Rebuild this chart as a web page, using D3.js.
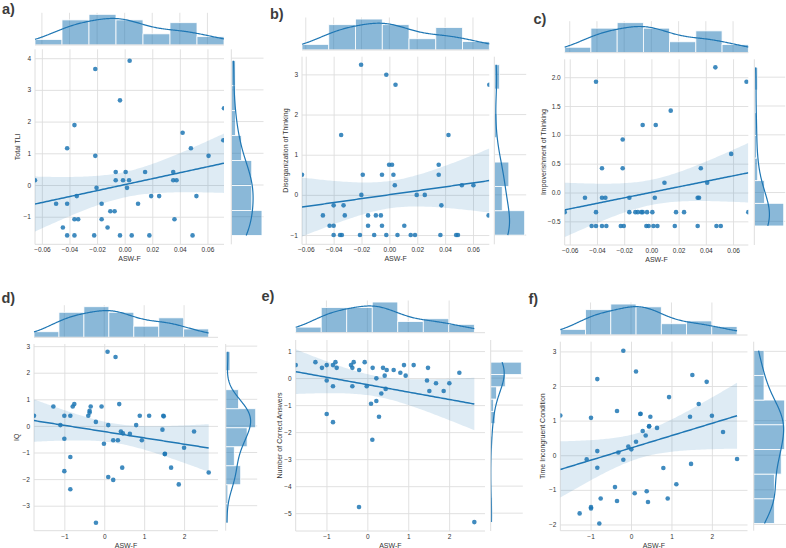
<!DOCTYPE html>
<html><head><meta charset="utf-8">
<script src="https://cdn.jsdelivr.net/npm/d3@7"></script>
<style>body{margin:0;background:#fff}svg{display:block}text{font-family:"Liberation Sans",Arial,sans-serif}</style>
</head><body><svg id="c" width="786" height="548"></svg>
<script>
// ---------------- DATA ----------------
const xLabel = "ASW-F";
const yLabelA = "Total TLI";
const yLabelB = "Disorganization of Thinking";
const yLabelC = "Impoverishment of Thinking";
const yLabelD = "IQ";
const yLabelE = "Number of Correct Answers";
const yLabelF = "Time Incongruent Condition";
const panelTags = ["a)", "b)", "c)", "d)", "e)", "f)"];

const xTicksRaw = [-0.06, -0.04, -0.02, 0, 0.02, 0.04, 0.06];
const xTicksZ = [-1, 0, 1, 2];
const yTicksA = [-1, 0, 1, 2, 3, 4];
const yTicksB = [-1, 0, 1, 2, 3];
const yTicksC = [-0.5, 0, 0.5, 1, 1.5, 2];
const yTicksD = [-3, -2, -1, 0, 1, 2, 3];
const yTicksE = [-5, -4, -3, -2, -1, 0, 1];
const yTicksF = [-2, -1, 0, 1, 2, 3];

const xDomA = [-0.065, 0.072],  yDomA = [-1.87, 4.28];
const xDomB = [-0.0627, 0.0717], yDomB = [-1.23, 3.44];
const xDomC = [-0.0637, 0.0712], yDomC = [-0.91, 2.31];
const xDomD = [-1.76, 2.85],    yDomD = [-3.94, 3.08];
const xDomE = [-1.752, 2.877],  yDomE = [-5.66, 1.41];
const xDomF = [-1.748, 2.88],   yDomF = [-2.18, 3.28];

// marginal histogram bin counts [x, y]
const binsA = [7, 7], binsB = [7, 7], binsC = [7, 7];
const binsD = [7, 9], binsE = [7, 13], binsF = [7, 7];

const ptsA = [[-0.065,0.15],[-0.0213,3.66],[0.0036,3.92],[-0.0034,2.67],[0.072,2.42],[-0.0364,1.89],[0.042,1.65],[-0.0417,1.16],[0.048,1.16],[0.0715,1.41],[-0.0213,0.92],[0.0608,0.92],[-0.0065,0.41],[0.0007,0.41],[0.0148,0.41],[0.0352,0.41],[-0.0065,0.15],[-0.0012,0.15],[0.0032,0.15],[0.0352,0.15],[0.0376,0.15],[-0.0204,-0.09],[0.0017,-0.09],[-0.0497,-0.59],[-0.0417,-0.59],[-0.0347,-0.35],[-0.0167,-0.59],[0.0097,-0.59],[0.0192,-0.35],[0.025,-0.35],[0.052,-0.35],[-0.0104,-0.83],[-0.0073,-0.83],[-0.0364,-1.08],[-0.0337,-1.08],[-0.0167,-1.08],[0.0361,-1.08],[-0.0448,-1.34],[-0.0124,-1.34],[-0.0417,-1.59],[-0.0364,-1.59],[-0.0221,-1.59],[-0.0034,-1.59],[0.0051,-1.59],[0.0179,-1.59],[0.0492,-1.59]];

const ptsB = [[-0.0627,0.5],[-0.0203,3.24],[-0.0022,2.99],[0.0044,2.74],[0.0717,2.74],[-0.0346,1.49],[0.0424,1.49],[-0.0002,0.75],[0.0019,0.75],[0.0354,0.75],[-0.0191,0.5],[-0.0053,0.5],[0.0029,0.5],[0.0354,0.5],[0.0039,0.24],[0.052,0.24],[0.0603,0.24],[-0.0201,0],[0.0196,0],[0.0254,0],[-0.04,-0.26],[-0.0329,-0.26],[0.0373,-0.26],[-0.0477,-0.51],[-0.032,-0.51],[-0.0153,-0.51],[-0.0097,-0.51],[-0.0061,-0.51],[0.0712,-0.51],[-0.0429,-0.77],[-0.04,-0.77],[-0.0153,-0.77],[-0.0053,-0.77],[0.0107,-0.77],[-0.04,-1],[-0.0354,-1],[-0.0341,-1],[-0.0211,-1],[-0.0109,-1],[-0.0022,-1],[0.0058,-1],[0.0153,-1],[0.0184,-1],[0.0366,-1],[0.0479,-1],[0.0492,-1]];

const ptsC = [[-0.0637,-0.34],[-0.0407,1.92],[0.0699,1.92],[0.047,2.17],[0.0142,1.42],[-0.0064,1.17],[0.0032,1.17],[-0.0211,0.92],[0.0586,0.67],[-0.0363,0.42],[-0.0211,0.42],[0.0363,0.42],[0.0096,0.17],[0.041,0.17],[-0.0488,-0.09],[-0.0363,-0.09],[-0.0338,-0.09],[-0.0162,-0.09],[0.0025,-0.09],[0.034,-0.09],[0.035,-0.09],[-0.0407,-0.34],[-0.0162,-0.34],[-0.0118,-0.34],[-0.01,-0.34],[-0.0074,-0.34],[-0.0064,-0.34],[-0.0032,-0.34],[0.0007,-0.34],[0.0181,-0.34],[0.024,-0.34],[0.0712,-0.34],[-0.0439,-0.58],[-0.0407,-0.58],[-0.0363,-0.58],[-0.0331,-0.58],[-0.0225,-0.58],[-0.0203,-0.58],[-0.0037,-0.58],[-0.002,-0.58],[0.0015,-0.58],[0.0044,-0.58],[0.0172,-0.58],[0.034,-0.58],[0.0478,-0.58],[0.051,-0.58]];

const ptsD = [[-1.76,0.38],[0.083,2.79],[0.283,2.59],[-1.275,0.73],[-0.79,0.73],[-0.75,0.82],[-0.34,0.73],[-0.067,0.73],[0.375,0.82],[-1.0,0.38],[-0.85,0.38],[-0.4,0.38],[-0.367,0.5],[-0.367,0.57],[0.89,0.38],[1.125,0.38],[1.48,0.38],[-1.1,0.03],[-0.21,0.15],[0.10,0.03],[0.8,0.03],[0.417,-0.21],[0.467,-0.28],[0.642,-0.3],[1.458,-0.14],[2.25,-0.21],[-1.0,-0.48],[-0.008,-0.67],[0.225,-0.54],[0.342,-0.54],[0.942,-0.54],[2.0,-0.82],[1.517,-1.06],[-0.85,-1.17],[-1.0,-1.7],[0.45,-1.57],[1.675,-1.57],[2.617,-1.75],[0.10,-1.92],[0.225,-2.03],[1.867,-2.2],[-0.85,-2.38],[-0.208,-3.64],[1.49,0.36],[1.52,-1.05]];

const ptsE = [[-1.752,0.48],[-1.27,0.59],[-1.11,0.38],[-0.994,0.48],[-0.84,0.48],[-0.78,0.59],[-0.75,0.38],[-0.4,0.48],[-0.367,0.38],[-0.334,0.59],[-0.2,0.3],[-0.065,0.59],[0.13,0.38],[0.383,0.38],[0.473,0.3],[0.644,0.3],[0.807,0.2],[0.896,0.48],[0.937,0.09],[1.133,0.48],[1.483,0.38],[2.25,0.2],[-0.994,-0.09],[-0.84,-0.3],[-0.367,-0.3],[-0.016,-0.3],[0.22,-0.01],[0.424,0.09],[0.448,-0.4],[1.459,-0.09],[1.516,-0.48],[1.679,-0.19],[1.866,-0.48],[2.005,-0.19],[0.342,-0.57],[0.09,-0.95],[0.22,-0.85],[0.285,-1.43],[-0.994,-1.33],[-0.84,-1.63],[0.122,-2.28],[-0.204,-4.77],[2.616,-5.33]];

const ptsF = [[-1.748,1.15],[-0.19,3.02],[0.124,2.42],[-0.833,2.2],[1.517,2.32],[1.871,2.12],[0.94,1.68],[1.674,1.48],[-0.346,1.28],[0.231,1.19],[-0.989,1.08],[0.478,1.11],[1.459,1.11],[2.0,1.14],[0.445,0.83],[0.643,0.79],[0.289,0.7],[0.363,0.57],[2.275,0.67],[0.124,0.39],[-0.066,0.25],[0.008,0.17],[-0.313,0.08],[-0.833,0.12],[-1.096,-0.12],[-0.19,-0.13],[-0.833,-0.36],[0.8,-0.37],[1.484,-0.25],[2.622,-0.11],[1.121,-0.84],[-0.396,-0.92],[0.091,-1.1],[0.388,-1.04],[-0.346,-1.32],[0.42,-1.35],[0.907,-1.25],[-0.75,-1.25],[-0.989,-1.5],[-0.989,-1.54],[-1.27,-1.68],[-0.783,-1.97],[0.235,1.2],[0.45,0.84]];

// ---------------- LAYOUT ----------------
const panels = [
  {pts:ptsA, xDom:xDomA, yDom:yDomA, xT:xTicksRaw, yT:yTicksA, xF:".2f", yF:"d", yl:yLabelA, bins:binsA,
   main:[35,224,49.3,244.3], top:[12.8,45], right:[231.3,263.5], tag:[2,13.5], ylx:19.5},
  {pts:ptsB, xDom:xDomB, yDom:yDomB, xT:xTicksRaw, yT:yTicksB, xF:".2f", yF:"d", yl:yLabelB, bins:binsB,
   main:[302,489.3,56.7,244.3], top:[17.5,50], right:[494.3,526.2], tag:[270,18.5], ylx:287.5},
  {pts:ptsC, xDom:xDomC, yDom:yDomC, xT:xTicksRaw, yT:yTicksC, xF:".2f", yF:".1f", yl:yLabelC, bins:binsC,
   main:[564.7,748.3,59.3,245], top:[21.2,52.7], right:[754.3,785.2], tag:[533.5,23.5], ylx:545.5},
  {pts:ptsD, xDom:xDomD, yDom:yDomD, xT:xTicksZ, yT:yTicksD, xF:"d", yF:"d", yl:yLabelD, bins:binsD,
   main:[34,218,344,530.7], top:[305.2,337.3], right:[225.7,257.2], tag:[1.5,302.5], ylx:19},
  {pts:ptsE, xDom:xDomE, yDom:yDomE, xT:xTicksZ, yT:yTicksE, xF:"d", yF:"d", yl:yLabelE, bins:binsE,
   main:[295.7,485,340,531], top:[300.5,332.7], right:[490.7,522.8], tag:[261.5,301], ylx:281.8},
  {pts:ptsF, xDom:xDomF, yDom:yDomF, xT:xTicksZ, yT:yTicksF, xF:"d", yF:"d", yl:yLabelF, bins:binsF,
   main:[560.3,747.5,341.7,530.7], top:[302.5,335], right:[753.7,786.2], tag:[528.5,303.5], ylx:545.2}
];

const C0 = "#1f77b4", GRID = "#dedede", TXT = "#333";
const svg = d3.select("#c");
const defs = svg.append("defs");

function kde(vals) {
  const n = vals.length, h = d3.deviation(vals) * Math.pow(n, -0.2);
  const [lo, hi] = d3.extent(vals);
  return d3.range(201).map(k => {
    const g = lo + (hi - lo) * k / 200;
    return [g, d3.sum(vals, v => Math.exp(-0.5 * ((g - v) / h) ** 2)) / (n * h * Math.sqrt(2 * Math.PI))];
  });
}
function hist(vals, nb) {
  const [lo, hi] = d3.extent(vals);
  const th = d3.range(1, nb).map(k => lo + (hi - lo) * k / nb);
  return {bins: d3.bin().domain([lo, hi]).thresholds(th)(vals), w: (hi - lo) / nb};
}
function regress(pts) {
  const n = pts.length, xs = pts.map(d => d[0]);
  const mx = d3.mean(xs), my = d3.mean(pts, d => d[1]);
  const sxx = d3.sum(xs, v => (v - mx) ** 2), sxy = d3.sum(pts, d => (d[0] - mx) * (d[1] - my));
  const b1 = sxy / sxx, b0 = my - b1 * mx;
  const s = Math.sqrt(d3.sum(pts, d => (d[1] - b0 - b1 * d[0]) ** 2) / (n - 2));
  const t = 2.017, [lo, hi] = d3.extent(xs);
  return d3.range(101).map(k => {
    const xv = lo + (hi - lo) * k / 100, yh = b0 + b1 * xv;
    const se = s * Math.sqrt(1 / n + (xv - mx) ** 2 / sxx);
    return {x: xv, y: yh, lo: yh - t * se, hi: yh + t * se};
  });
}

panels.forEach((p, i) => {
  const [mx0, mx1, my0, my1] = p.main;
  const x = d3.scaleLinear().domain(p.xDom).range([mx0, mx1]);
  const y = d3.scaleLinear().domain(p.yDom).range([my1, my0]);
  const g = svg.append("g");
  const cid = "clip" + i;
  defs.append("clipPath").attr("id", cid).append("rect")
    .attr("x", mx0).attr("y", my0).attr("width", mx1 - mx0).attr("height", my1 - my0);

  // axes with grid
  const ax = g.append("g").attr("transform", `translate(0,${my1})`)
    .call(d3.axisBottom(x).tickValues(p.xT).tickFormat(d3.format(p.xF)).tickSize(-(my1 - my0)).tickPadding(3.2));
  const ay = g.append("g").attr("transform", `translate(${mx0},0)`)
    .call(d3.axisLeft(y).tickValues(p.yT).tickFormat(d3.format(p.yF)).tickSize(-(mx1 - mx0)).tickPadding(4));
  [ax, ay].forEach(a => {
    a.select(".domain").remove();
    a.selectAll(".tick line").attr("stroke", GRID).attr("stroke-width", 0.9);
    a.selectAll(".tick text").attr("fill", TXT).style("font-size", "6.5px")
      .style("font-family", '"Liberation Sans", Arial, sans-serif');
  });
  g.append("line").attr("x1", mx0).attr("x2", mx0).attr("y1", my0).attr("y2", my1).attr("stroke", GRID);
  g.append("line").attr("x1", mx0).attr("x2", mx1).attr("y1", my1).attr("y2", my1).attr("stroke", GRID);

  // axis labels
  g.append("text").attr("x", (mx0 + mx1) / 2).attr("y", my1 + 16.8).attr("text-anchor", "middle")
    .attr("fill", TXT).style("font-size", "7px").text(xLabel);
  g.append("text").attr("transform", `translate(${p.ylx},${(my0 + my1) / 2}) rotate(-90)`)
    .attr("text-anchor", "middle").attr("fill", TXT).style("font-size", "7px").text(p.yl);
  // tag
  g.append("text").attr("x", p.tag[0]).attr("y", p.tag[1]).attr("fill", "#3c3c3c")
    .style("font-size", "14.5px").style("font-weight", "bold").text(panelTags[i]);

  // regression
  const reg = regress(p.pts);
  const plot = g.append("g").attr("clip-path", `url(#${cid})`);
  plot.append("path").datum(reg).attr("fill", C0).attr("fill-opacity", 0.15)
    .attr("d", d3.area().x(d => x(d.x)).y0(d => y(d.lo)).y1(d => y(d.hi)));
  plot.selectAll("circle").data(p.pts).enter().append("circle")
    .attr("cx", d => x(d[0])).attr("cy", d => y(d[1])).attr("r", 2.3)
    .attr("fill", C0).attr("fill-opacity", 0.85);
  plot.append("path").datum(reg).attr("fill", "none").attr("stroke", C0).attr("stroke-width", 1.5)
    .attr("d", d3.line().x(d => x(d.x)).y(d => y(d.y)));

  // top marginal
  const xs = p.pts.map(d => d[0]), ys = p.pts.map(d => d[1]);
  const [t0, t1] = p.top;
  p.xT.forEach(v => {
    if (x(v) >= mx0 && x(v) <= mx1)
      g.append("line").attr("x1", x(v)).attr("x2", x(v)).attr("y1", t0).attr("y2", t1).attr("stroke", GRID).attr("stroke-width", 0.9);
  });
  const hx = hist(xs, p.bins[0]);
  const cy = d3.scaleLinear().domain([0, d3.max(hx.bins, b => b.length) * 1.05]).range([t1, t0]);
  g.append("g").selectAll("rect").data(hx.bins).enter().append("rect")
    .attr("x", b => x(b.x0)).attr("width", b => x(b.x1) - x(b.x0))
    .attr("y", b => cy(b.length)).attr("height", b => t1 - cy(b.length))
    .attr("fill", C0).attr("fill-opacity", 0.52).attr("stroke", "#fff").attr("stroke-width", 0.8);
  g.append("path").datum(kde(xs)).attr("fill", "none").attr("stroke", C0).attr("stroke-width", 1.2)
    .attr("d", d3.line().x(d => x(d[0])).y(d => cy(d[1] * xs.length * hx.w)));
  g.append("line").attr("x1", mx0).attr("x2", mx1).attr("y1", t1).attr("y2", t1).attr("stroke", GRID);

  // right marginal
  const [r0, r1] = p.right;
  p.yT.forEach(v => {
    g.append("line").attr("x1", r0).attr("x2", r1).attr("y1", y(v)).attr("y2", y(v)).attr("stroke", GRID).attr("stroke-width", 0.9);
  });
  const hy = hist(ys, p.bins[1]);
  const cx = d3.scaleLinear().domain([0, d3.max(hy.bins, b => b.length) * 1.05]).range([r0, r1]);
  g.append("g").selectAll("rect").data(hy.bins).enter().append("rect")
    .attr("y", b => y(b.x1)).attr("height", b => y(b.x0) - y(b.x1))
    .attr("x", r0).attr("width", b => cx(b.length) - r0)
    .attr("fill", C0).attr("fill-opacity", 0.52).attr("stroke", "#fff").attr("stroke-width", 0.8);
  g.append("path").datum(kde(ys)).attr("fill", "none").attr("stroke", C0).attr("stroke-width", 1.2)
    .attr("d", d3.line().y(d => y(d[0])).x(d => cx(d[1] * ys.length * hy.w)));
  g.append("line").attr("x1", r0).attr("x2", r0).attr("y1", my0).attr("y2", my1).attr("stroke", GRID);
});
</script></body></html>
